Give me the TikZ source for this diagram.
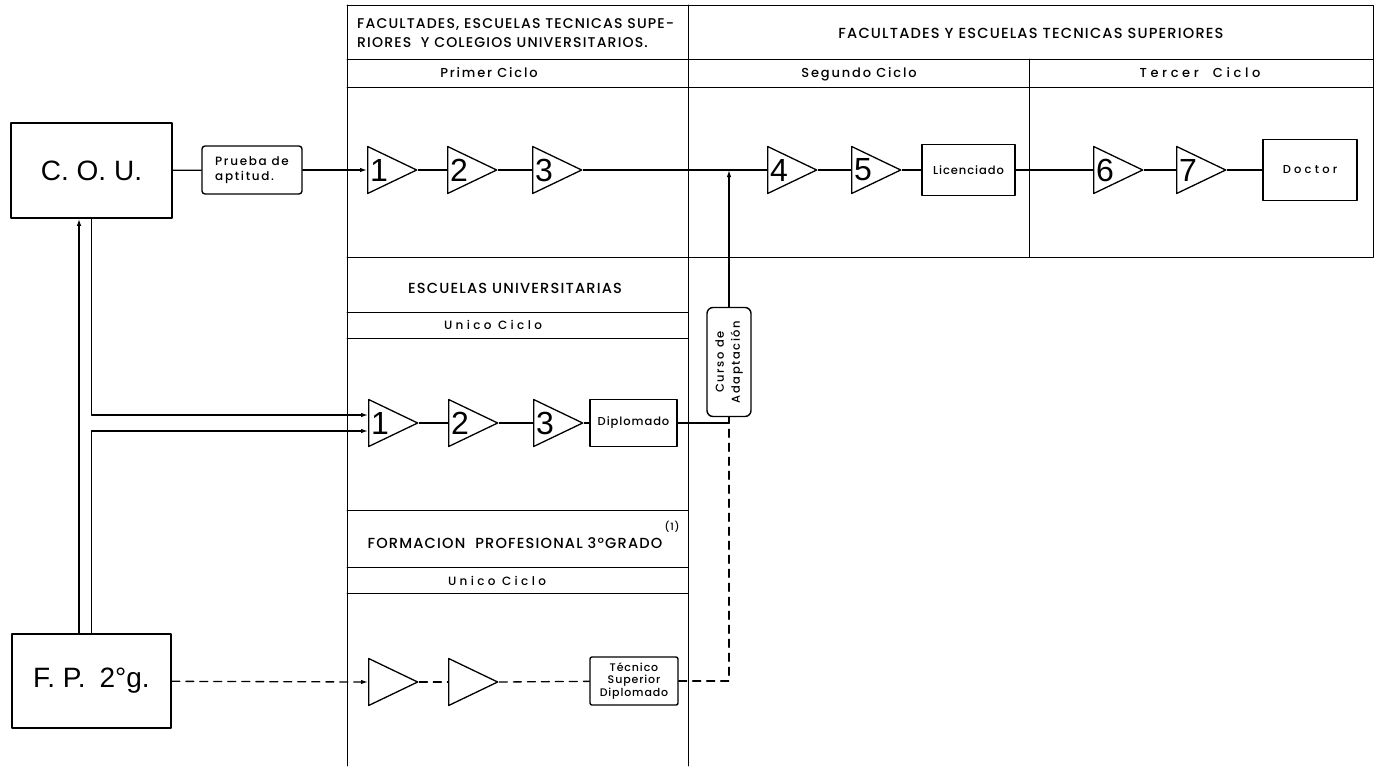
\documentclass[tikz,border=0pt]{standalone}
\usepackage{fontspec}
\setmainfont{Poppins}[UprightFont=* Medium]
\newfontfamily\helvfont{Liberation Sans}
\newfontfamily\spacedfont{Poppins}[UprightFont=* Medium, LetterSpace=8]
\newfontfamily\cyclefont{Poppins}[UprightFont=* Medium, LetterSpace=14]
\newfontfamily\widefont{Poppins}[UprightFont=* Medium, LetterSpace=28]
\usetikzlibrary{arrows.meta,shapes.geometric}

\begin{document}
\begin{tikzpicture}[
	x=1pt, y=-1pt,
	every node/.style={inner sep=0pt},
	line cap=round,
	line join=round,
	gridline/.style={line width=0.8pt},
	headtext/.style={font=\spacedfont\fontsize{14.6}{19}\selectfont},
	cyclelabel/.style={font=\cyclefont\fontsize{13}{14}\selectfont, anchor=base},
	widelabel/.style={font=\widefont\fontsize{12}{13}\selectfont, anchor=base},
	stage/.style={draw, line width=1.3pt, isosceles triangle, isosceles triangle stretches, minimum width=47pt, minimum height=49pt, inner sep=0pt, anchor=lower side},
	num/.style={font=\helvfont\fontsize{32}{32}\selectfont, anchor=west, inner sep=3pt},
	degreebox/.style={draw, line width=1.4pt, font=\spacedfont\fontsize{11.5}{13}\selectfont, align=center},
	bigbox/.style={draw, line width=1.6pt, font=\helvfont\fontsize{28}{28}\selectfont},
	link/.style={line width=1.3pt},
	entry/.style={link, -{Latex[length=7pt,width=4.5pt]}},
	dashlink/.style={link, dash pattern=on 8pt off 6pt}
	]
	\useasboundingbox (0,0) rectangle (1375,766);
	
	% table frame
	\draw[gridline] (347,5) -- (1373,5) -- (1373,257) -- (347,257);
	\draw[gridline] (347,5) -- (347,766);
	\draw[gridline] (688,5) -- (688,766);
	\draw[gridline] (347,59) -- (1373,59);
	\draw[gridline] (347,87) -- (1373,87);
	\draw[gridline] (1029,59) -- (1029,257);
	\draw[gridline] (347,312) -- (688,312);
	\draw[gridline] (347,338) -- (688,338);
	\draw[gridline] (347,510) -- (688,510);
	\draw[gridline] (347,567) -- (688,567);
	\draw[gridline] (347,593) -- (688,593);
	
	% headings
	\node[headtext, font=\spacedfont\fontsize{14.1}{19}\selectfont, anchor=west, align=left] (hfac) at (357,33) {FACULTADES, ESCUELAS TECNICAS SUPE-\\RIORES\ \ Y COLEGIOS UNIVERSITARIOS.};
	\node[headtext, anchor=base] (hfts) at (1031,38) {FACULTADES Y ESCUELAS TECNICAS SUPERIORES};
	\node[cyclelabel] (cprim) at (489,77) {Primer Ciclo};
	\node[cyclelabel] (cseg) at (859,77) {Segundo Ciclo};
	\node[widelabel, font=\widefont\fontsize{13}{14}\selectfont] (cter) at (1200,77) {Tercer\ \ Ciclo};
	\node[headtext, anchor=base] (heu) at (515,293) {ESCUELAS UNIVERSITARIAS};
	\node[widelabel] (ceu) at (493,329) {Unico\ Ciclo};
	\node[headtext, anchor=base] (hfp) at (515,548) {FORMACION\ \ PROFESIONAL 3ºGRADO};
	\node[font=\spacedfont\fontsize{10}{10}\selectfont] (note) at (672,527) {(1)};
	\node[widelabel] (cfp) at (497,585) {Unico\ Ciclo};
	
	% entry boxes
	\node[bigbox, minimum width=161pt, minimum height=95pt] (cou) at (91.5,170.5) {C.\ O.\ U.};
	\node[bigbox, minimum width=159pt, minimum height=94pt] (fp) at (91.5,681) {F.\ P.\enspace 2°g.};
	\node[degreebox, font=\cyclefont\fontsize{12}{15}\selectfont, rounded corners=3pt, minimum width=100pt, minimum height=48pt, align=left] (prueba) at (252,170) {Prueba de\\aptitud.};
	
	% first row
	\node[stage] (a1) at (367,170) {};
	\node[num] (n1) at (a1.lower side) {1};
	\node[stage] (a2) at (447,170) {};
	\node[num] (n2) at (a2.lower side) {2};
	\node[stage] (a3) at (532,170) {};
	\node[num] (n3) at (a3.lower side) {3};
	\node[stage] (a4) at (767,170) {};
	\node[num] (n4) at (a4.lower side) {4};
	\node[stage] (a5) at (851,170) {};
	\node[num] (n5) at (a5.lower side) {5};
	\node[degreebox, minimum width=93pt, minimum height=51pt] (lic) at (968.5,170) {Licenciado};
	\node[stage] (a6) at (1093,170) {};
	\node[num] (n6) at (a6.lower side) {6};
	\node[stage] (a7) at (1176,170) {};
	\node[num] (n7) at (a7.lower side) {7};
	\node[degreebox, font=\widefont\fontsize{11.5}{13}\selectfont, minimum width=94pt, minimum height=61pt] (doc) at (1310,170) {Doctor};
	
	% second row
	\node[stage] (b1) at (368,423) {};
	\node[num] (m1) at (b1.lower side) {1};
	\node[stage] (b2) at (448,423) {};
	\node[num] (m2) at (b2.lower side) {2};
	\node[stage] (b3) at (533,423) {};
	\node[num] (m3) at (b3.lower side) {3};
	\node[degreebox, minimum width=87pt, minimum height=47pt] (dip) at (633.5,423) {Diplomado};
	\node[degreebox, font=\cyclefont\fontsize{11.5}{16}\selectfont, rounded corners=6pt, rotate=90, minimum width=109pt, minimum height=44pt] (cur) at (729,362) {Curso de\\Adaptación};
	
	% third row
	\node[stage] (c1) at (368,682) {};
	\node[stage] (c2) at (448,682) {};
	\node[degreebox, font=\spacedfont\fontsize{11}{12.5}\selectfont, rounded corners=2pt, minimum width=88pt, minimum height=48pt] (tec) at (634,681) {Técnico\\Superior\\Diplomado};
	
	% connectors
	\draw[link] (cou) -- (prueba);
	\draw[entry] (prueba) -- (a1.lower side);
	\draw[link] (a1.apex) -- (a2.lower side);
	\draw[link] (a2.apex) -- (a3.lower side);
	\draw[link] (a3.apex) -- (a4.lower side);
	\draw[link] (a4.apex) -- (a5.lower side);
	\draw[link] (a5.apex) -- (lic);
	\draw[link] (lic) -- (a6.lower side);
	\draw[link] (a6.apex) -- (a7.lower side);
	\draw[link] (a7.apex) -- (doc);
	
	\draw[link] (b1.apex) -- (b2.lower side);
	\draw[link] (b2.apex) -- (b3.lower side);
	\draw[link] (b3.apex) -- (dip);
	\draw[link] (dip.east) -- (dip.east -| cur) -- (cur);
	\draw[entry] (cur) -- (cur |- a3.apex);
	
	\draw[dashlink, -{Latex[length=7pt,width=4.5pt]}] (fp) -- (c1.lower side);
	\draw[dashlink] (c1.apex) -- (c2.lower side);
	\draw[dashlink] (c2.apex) -- (tec);
	\draw[dashlink] (tec.east) -- (tec.east -| cur) -- (dip.east -| cur);
	
	\draw[entry] ([xshift=-12.5pt]fp.north) -- ([xshift=-12.5pt]cou.south);
	\draw[entry] (cou.south) |- ([yshift=8pt]b1.lower side);
	\draw[entry] (fp.north) |- ([yshift=-8pt]b1.lower side);
\end{tikzpicture}
\end{document}
